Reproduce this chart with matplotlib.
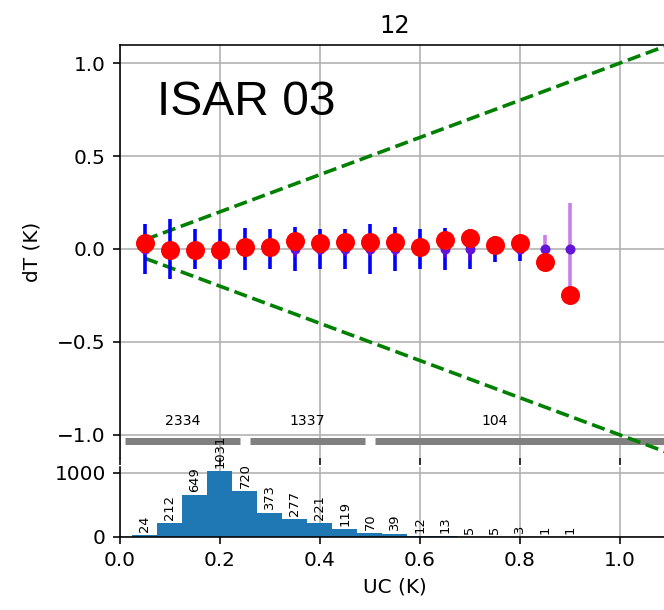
import numpy as np
import matplotlib
matplotlib.use("Agg")
import matplotlib.pyplot as plt

# bin centres (UC, K)
uc = [0.05, 0.10, 0.15, 0.20, 0.25, 0.30, 0.35, 0.40, 0.45,
      0.50, 0.55, 0.60, 0.65, 0.70, 0.75, 0.80, 0.85, 0.90]
# mean dT per bin (red dots)
dt_mean = [0.03, -0.005, -0.005, -0.005, 0.01, 0.01, 0.045, 0.03, 0.04,
           0.04, 0.04, 0.01, 0.05, 0.06, 0.02, 0.03, -0.07, -0.25]
# spread (blue bars, only bins with enough samples)
dt_std = [0.135, 0.16, 0.11, 0.11, 0.115, 0.11, 0.12, 0.11, 0.105,
          0.135, 0.12, 0.105, 0.115, 0.11, 0.07, 0.065]
# violet bars around zero
dt_err = [0.03, 0.005, 0.005, 0.005, 0.01, 0.01, 0.045, 0.03, 0.04,
          0.04, 0.04, 0.01, 0.05, 0.06, 0.02, 0.03, 0.075, 0.25]
# histogram counts per bin
counts = [24, 212, 649, 1031, 720, 373, 277, 221, 119,
          70, 39, 12, 13, 5, 5, 3, 1, 1]

# coarse groups (grey bars)
grp_lo = [0.01, 0.26, 0.51]
grp_hi = [0.24, 0.49, 1.20]
grp_mid = [0.125, 0.375, 0.75]
grp_n = [2334, 1337, 104]

ref_x = [0.05, 1.2]

DPI = 144
fig = plt.figure(figsize=(664 / DPI, 610 / DPI), dpi=DPI)
ax = fig.add_axes([0.1807, 0.2492, 0.8283, 0.677])
axh = fig.add_axes([0.1807, 0.1197, 0.8283, 0.1148], sharex=ax)

x = np.array(uc)
nb = len(dt_std)

ax.hlines([-1.03] * 3, grp_lo, grp_hi, color="gray", lw=3.5, zorder=2)
for xm, n in zip(grp_mid, grp_n):
    ax.text(xm, -0.965, str(n), ha="center", va="bottom", fontsize=7)

rx = np.array(ref_x)
ax.plot(rx, rx, "g--", lw=1.8, zorder=3)
ax.plot(rx, -rx, "g--", lw=1.8, zorder=3)

ax.errorbar(x[:nb], np.zeros(nb), yerr=dt_std, fmt="none", ecolor="blue",
            elinewidth=1.8, zorder=4)
ax.vlines(x, -np.array(dt_err), np.array(dt_err), color="darkviolet",
          alpha=0.5, lw=1.8, zorder=5)
ax.plot(x, np.zeros(len(x)), "o", color="#6414d8", ms=4, zorder=6)
ax.plot(x, dt_mean, "o", color="red", ms=8.5, zorder=7)

ax.set_xlim(0, 1.1)
ax.set_ylim(-1.124, 1.097)
ax.set_yticks([-1.0, -0.5, 0.0, 0.5, 1.0])
ax.set_ylabel("dT (K)", labelpad=8)
ax.set_title("12")
ax.grid(True)
ax.spines["bottom"].set_visible(False)
ax.tick_params(axis="x", labelbottom=False)
ax.text(0.067, 0.83, "ISAR 03", transform=ax.transAxes, fontsize=24,
        family="Liberation Sans", va="baseline")

axh.bar(x, counts, width=0.05, color="#1f77b4", zorder=2)
for xi, c in zip(x, counts):
    axh.annotate(str(c), (xi, c), xytext=(0, 1.5), textcoords="offset points",
                 rotation=90, ha="center", va="bottom", fontsize=6.5,
                 annotation_clip=False)
axh.set_ylim(0, 1094)
axh.set_yticks([0, 1000])
axh.set_xticks([0.0, 0.2, 0.4, 0.6, 0.8, 1.0])
axh.set_xlabel("UC (K)")
axh.grid(True)
axh.spines["top"].set_visible(False)

fig.savefig("out.png", dpi=DPI)
